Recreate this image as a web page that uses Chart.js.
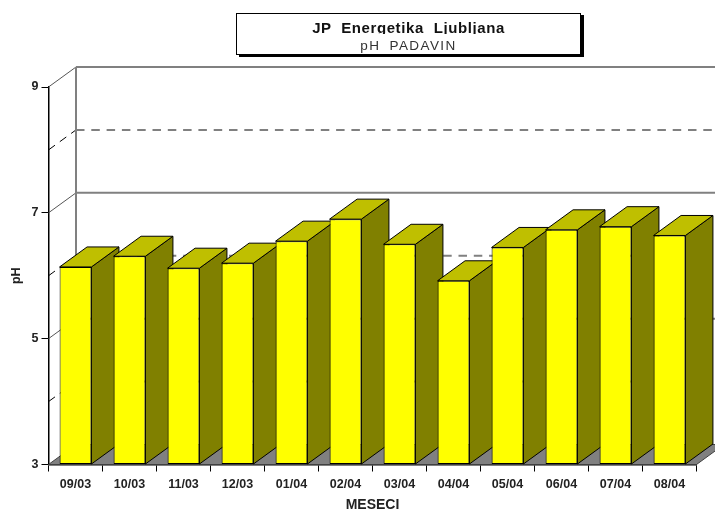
<!DOCTYPE html>
<html>
<head>
<meta charset="utf-8">
<script src="https://cdn.jsdelivr.net/npm/chart.js@4"></script>
<style>
  html, body { margin:0; padding:0; background:#fff; overflow:hidden; }
  #wrap { position:relative; width:715px; height:511px; }
  canvas { position:absolute; left:0; top:0; }
  #titleBox {
    position:absolute; left:236px; top:13px; width:343px; height:40px;
    border:1px solid #000; background:#fff; box-shadow:3px 2px 0 #000;
    text-align:center; font-family:"Liberation Sans",Arial,sans-serif; color:#111;
  }
  #titleBox .t1 { font-size:15px; font-weight:bold; line-height:16px; height:14px; overflow:hidden; margin-top:6px; letter-spacing:.6px; word-spacing:5px; }
  #titleBox .t2 { font-size:13.5px; line-height:15px; margin-top:4px; letter-spacing:1.4px; word-spacing:4px; color:#333; }
</style>
</head>
<body>
<div id="wrap">
  <canvas id="chart" width="715" height="511"></canvas>
  <div id="titleBox"><div class="t1">JP Energetika Ljubljana</div><div class="t2">pH PADAVIN</div></div>
</div>
<script>
const categories = ["09/03","10/03","11/03","12/03","01/04","02/04","03/04","04/04","05/04","06/04","07/04","08/04"];
const phValues = [6.14,6.31,6.12,6.2,6.55,6.9,6.5,5.92,6.45,6.73,6.78,6.64];
const yTickLabels = ["3","5","7","9"];
const axisFont = { family:"'Liberation Sans', Arial, sans-serif", size:12.5, weight:"bold" };
const axisTitleFont = { family:"'Liberation Sans', Arial, sans-serif", size:14, weight:"bold" };

const DX = 27.5, DY = 20;   // depth of the 3d look

function poly(ctx, pts, fill){
  ctx.beginPath();
  pts.forEach((p,i)=> i ? ctx.lineTo(p[0],p[1]) : ctx.moveTo(p[0],p[1]));
  ctx.closePath();
  ctx.fillStyle = fill;
  ctx.fill();
  ctx.stroke();
}

const fake3d = {
  id: "fake3d",
  beforeDatasetsDraw(chart){
    const ctx = chart.ctx;
    const y = chart.scales.y;
    const x0 = chart.chartArea.left, x1 = chart.chartArea.right;
    const base = y.getPixelForValue(3);
    ctx.save();

    // walls
    for (let v = 9; v > 3; v--){
      const py = y.getPixelForValue(v);
      const odd = v % 2 === 1;
      ctx.setLineDash(odd ? [] : [8.5,6.8]);
      ctx.strokeStyle = "#808080";
      ctx.lineWidth = 2;
      ctx.beginPath(); ctx.moveTo(x0+DX, py-DY); ctx.lineTo(chart.width, py-DY); ctx.stroke();
      ctx.setLineDash(odd ? [] : [8,6]);
      ctx.strokeStyle = odd ? "#555" : "#000";
      ctx.lineWidth = 1;
      ctx.beginPath(); ctx.moveTo(x0, py); ctx.lineTo(x0+DX, py-DY); ctx.stroke();
    }
    ctx.setLineDash([]);
    ctx.strokeStyle = "#808080";
    ctx.lineWidth = 2;
    ctx.beginPath(); ctx.moveTo(x0+DX, y.getPixelForValue(9)-DY); ctx.lineTo(x0+DX, base-DY); ctx.stroke();

    // floor
    ctx.strokeStyle = "#404040";
    ctx.lineWidth = 1;
    poly(ctx, [[x0,base],[x0+DX,base-DY],[x1+DX,base-DY],[x1,base]], "#808080");

    // sides and tops, left to right
    ctx.strokeStyle = "#000";
    ctx.lineWidth = 1;
    ctx.lineJoin = "round";
    chart.getDatasetMeta(0).data.forEach(el=>{
      const l = el.x - el.width/2, r = el.x + el.width/2;
      poly(ctx, [[r,el.y],[r+DX,el.y-DY],[r+DX,el.base-DY],[r,el.base]], "#808000");
      poly(ctx, [[l,el.y],[l+DX,el.y-DY],[r+DX,el.y-DY],[r,el.y]], "#BFBF00");
    });
    ctx.restore();
  }
};

new Chart(document.getElementById("chart"), {
  type: "bar",
  data: {
    labels: categories,
    datasets: [{
      label: "pH",
      data: phValues,
      base: 3,
      backgroundColor: "#FFFF00",
      borderColor: "#000",
      borderWidth: 1,
      borderSkipped: false,
      categoryPercentage: 1,
      barPercentage: 0.59
    }]
  },
  options: {
    responsive: false,
    animation: false,
    layout: { padding: { left:0, right:18.5, top:87, bottom:0 } },
    plugins: { legend: { display:false }, tooltip: { enabled:false }, title: { display:false } },
    scales: {
      x: {
        z: 1,
        afterFit: s => { s.height = 46.5; },
        grid: { offset:true, drawOnChartArea:false, color:"#000", tickLength:7, lineWidth:1 },
        border: { color:"#000", width:1.5 },
        ticks: { color:"#222", font:axisFont, padding:6, maxRotation:0, autoSkip:false },
        title: { display:true, text:"MESECI", color:"#222", font:axisTitleFont, padding:{ top:0, bottom:-3 } }
      },
      y: {
        z: 1,
        min: 3, max: 9,
        afterFit: s => { s.width = 48.5; },
        grid: {
          drawOnChartArea:false, lineWidth:1, tickLength:7,
          tickColor: c => (yTickLabels.includes(String(c.tick.value)) ? "#000" : "transparent")
        },
        border: { color:"#000", width:1.5 },
        ticks: {
          stepSize: 1, color:"#222", font:axisFont, padding:3,
          callback: v => (yTickLabels.includes(String(v)) ? String(v) : "")
        },
        title: { display:true, text:"pH", color:"#222", font:axisFont, padding:{ top:9, bottom:0 } }
      }
    }
  },
  plugins: [fake3d]
});
</script>
</body>
</html>
